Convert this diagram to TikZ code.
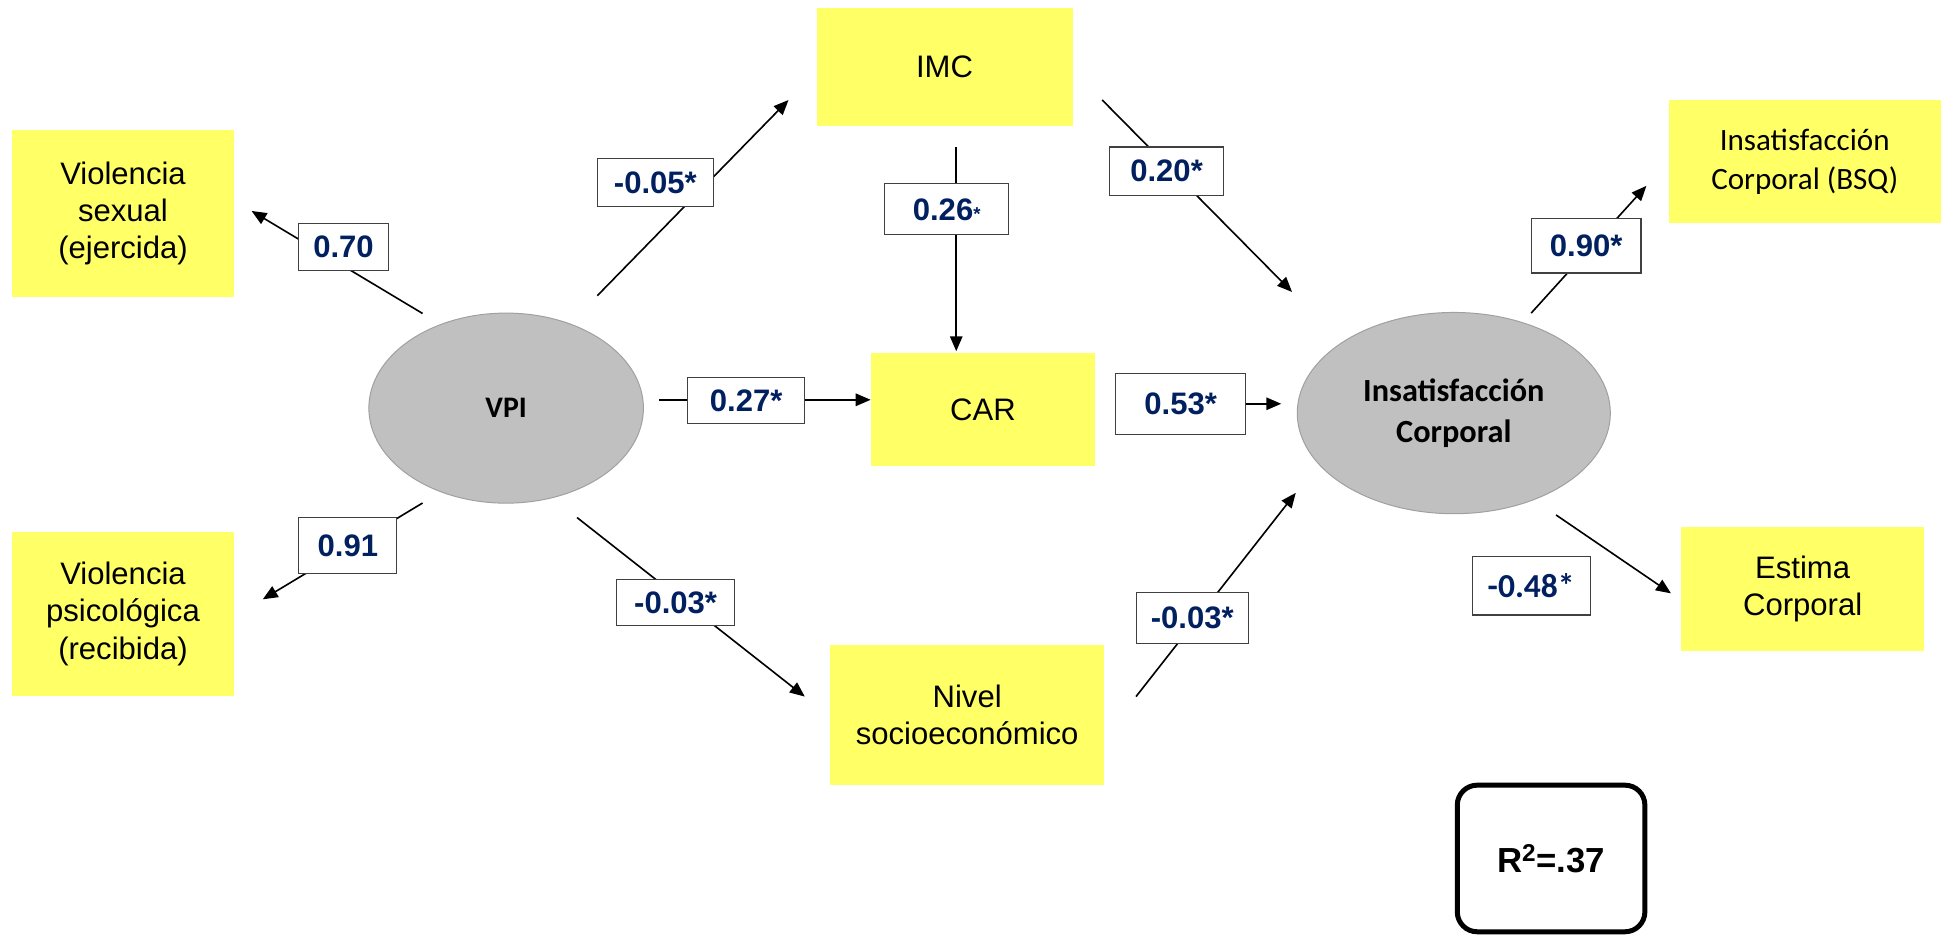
\documentclass[tikz,border=0pt]{standalone}
\usepackage{fontspec}
\setmainfont{Liberation Sans}
\newfontfamily\calibrifont{Carlito}
\usetikzlibrary{arrows.meta,shapes.geometric}
\definecolor{boxyellow}{HTML}{FFFF66}
\definecolor{coefblue}{HTML}{002060}
\definecolor{ellfill}{HTML}{C0C0C0}
\definecolor{elldraw}{HTML}{A0A0A0}
\definecolor{coefframe}{HTML}{404040}

\begin{document}
\begin{tikzpicture}[x=1pt,y=-1pt,
  var/.style={rectangle, fill=boxyellow, draw=none, inner sep=0pt, align=center,
    font=\fontsize{25}{30}\selectfont},
  calvar/.style={var, font=\calibrifont\fontsize{25}{31}\selectfont},
  latent/.style={ellipse, fill=ellfill, draw=elldraw, line width=0.8pt, inner sep=0pt,
    align=center, font=\calibrifont\bfseries\fontsize{26}{33}\selectfont},
  coef/.style={rectangle, fill=white, draw=coefframe, line width=0.9pt, inner sep=0pt,
    text=coefblue, font=\bfseries\fontsize{25}{30}\selectfont},
  effect/.style={line width=1.3pt, -{Triangle[length=12pt,width=10pt]}},
]
\useasboundingbox (0,0) rectangle (1568,756);

% observed and latent variables
\node[var, minimum width=178pt, minimum height=134pt] (vsex) at (99,172) {Violencia\\sexual\\(ejercida)};
\node[var, minimum width=178pt, minimum height=132pt] (vpsi) at (99,494) {Violencia\\psicológica\\(recibida)};
\node[latent, minimum width=221pt, minimum height=153pt,
  font=\calibrifont\bfseries\fontsize{24}{29}\selectfont] (vpi) at (407.4,328.5) {VPI};
\node[var, minimum width=206pt, minimum height=95pt] (imc) at (760.3,54) {IMC};
\node[var, minimum width=180pt, minimum height=91pt] (car) at (791.2,329.6) {CAR};
\node[var, minimum width=221pt, minimum height=113pt] (nse) at (778.5,575.5) {Nivel\\socioeconómico};
\node[latent, minimum width=252pt, minimum height=162pt] (ic) at (1170.2,332.5) {Insatisfacción\\Corporal};
\node[calvar, minimum width=218.5pt, minimum height=99pt] (bsq) at (1452.7,130) {Insatisfacción\\Corporal (BSQ)};
\node[var, minimum width=196pt, minimum height=100pt] (est) at (1451,474) {Estima\\Corporal};
\node[draw, line width=4pt, rounded corners=16pt, minimum width=151pt, minimum height=118pt,
  font=\bfseries\fontsize{28}{32}\selectfont] (r2) at (1248.5,691) {R\textsuperscript{2}=.37};

% free ends of the paths
\coordinate (vpi-s) at (340.1,252.3);  \coordinate (sex-e) at (202.5,169.8);
\coordinate (vpi-p) at (340.1,404.9);  \coordinate (psi-e) at (211.5,482.4);
\coordinate (vpi-i) at (480.8,238);    \coordinate (imc-e) at (634.7,80.5);
\coordinate (imc-c) at (769.7,118.4);  \coordinate (car-e) at (769.7,282.7);
\coordinate (vpi-c) at (530.5,321.8);  \coordinate (car-w) at (700.8,321.8);
\coordinate (vpi-n) at (464.5,416.6);  \coordinate (nse-e) at (647.8,560.7);
\coordinate (imc-d) at (887.2,80.5);   \coordinate (ic-nw) at (1040,235);
\coordinate (ic-w) at (1031.3,325);
\coordinate (nse-d) at (914.4,560.7);  \coordinate (ic-sw) at (1043,396.7);
\coordinate (ic-b) at (1232.5,252);    \coordinate (bsq-e) at (1325.2,149.6);
\coordinate (ic-e) at (1252.5,414.5);  \coordinate (est-e) at (1345,477.6);

% paths
\draw[effect] (vpi-s) -- (sex-e);
\draw[effect] (vpi-p) -- (psi-e);
\draw[effect] (vpi-i) -- (imc-e);
\draw[effect] (imc-c) -- (car-e);
\draw[effect] (vpi-c) -- (car-w);
\draw[effect] (vpi-n) -- (nse-e);
\draw[effect] (imc-d) -- (ic-nw);
\draw[effect] (nse-d) -- (ic-sw);
\draw[effect] (ic-b) -- (bsq-e);
\draw[effect] (ic-e) -- (est-e);

% coefficients
\node[coef, minimum width=72pt, minimum height=37.5pt] (c070) at (276.5,198.8) {0.70};
\node[coef, minimum width=79pt, minimum height=44.6pt] (c091) at (280,439) {0.91};
\node[coef, minimum width=93pt, minimum height=38.7pt] (c005) at (527.5,147) {-0.05*};
\node[coef, minimum width=100pt, minimum height=41pt] (c026) at (762,168.5) {0.26{\fontsize{15}{15}\selectfont*}};
\node[coef, minimum width=94pt, minimum height=37pt] (c027) at (600.6,322.5) {0.27*};
\node[coef, minimum width=94.5pt, minimum height=36.5pt] (c003a) at (543.8,485) {-0.03*};
\node[coef, minimum width=91.5pt, minimum height=39pt] (c020) at (939,137.8) {0.20*};
\node[coef, minimum width=104.6pt, minimum height=49pt] (c053) at (950.3,325) {0.53*};
\node[coef, minimum width=90pt, minimum height=41pt] (c003b) at (959.7,497.6) {-0.03*};
\node[coef, minimum width=88.4pt, minimum height=44pt] (c090) at (1276.7,197.7) {0.90*};
\node[coef, minimum width=95pt, minimum height=47.4pt,
  font=\calibrifont\bfseries\fontsize{27}{30}\selectfont] (c048) at (1232.5,471.3) {-0.48*};

\draw[effect] (c053.east) -- (ic-w);
\end{tikzpicture}
\end{document}
